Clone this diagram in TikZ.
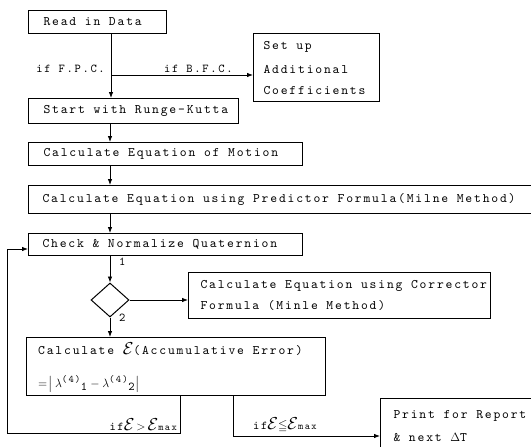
\documentclass[tikz,border=0pt]{standalone}
\usepackage{amsmath,amssymb}
\usepackage{fontspec}
\usetikzlibrary{arrows.meta,shapes.geometric}
\newfontfamily\typew{lmmono10-regular.otf}[LetterSpace=14]
\protected\def\bigsp{\spaceskip=8.6pt\relax}
\protected\def\smallsp{\spaceskip=8pt\relax}
\tikzset{
  every node/.style={font=\typew\fontsize{13}{15}\selectfont\bigsp},
  boxnode/.style={draw, line width=1.1pt, anchor=north west, inner xsep=0pt, inner ysep=0pt, align=left},
  conn/.style={line width=0.8pt, -{Latex[length=6pt,width=4.5pt]}},
  lbl/.style={inner sep=1pt, font=\typew\fontsize{12}{14}\selectfont\smallsp},
  txt/.style={inner sep=0pt, anchor=west},
}
\begin{document}
\begin{tikzpicture}[x=1pt,y=-1pt]
\useasboundingbox (0,0) rectangle (531,447);
\node[boxnode, minimum width=138pt, minimum height=23pt, text width=138pt] (read) at (28,10) {\bigsp\hspace*{15pt}Read in Data};
\node[boxnode, minimum width=126pt, minimum height=68pt, text width=126pt] (setup) at (253,33) {\bigsp\hspace*{10pt}Set up\\[9pt]\hspace*{10pt}Additional\\[6pt]\hspace*{10pt}Coefficients};
\node[boxnode, minimum width=210pt, minimum height=25pt, text width=210pt] (rk) at (28,98) {\bigsp\hspace*{15pt}Start with Runge-Kutta};
\node[boxnode, minimum width=274pt, minimum height=23pt, text width=274pt] (motion) at (28,142) {\bigsp\hspace*{15pt}Calculate Equation of Motion};
\node[boxnode, minimum width=540pt, minimum height=28pt, text width=540pt] (pred) at (28,185) {\bigsp\hspace*{14pt}Calculate Equation using Predictor Formula(Milne Method)};
\node[boxnode, minimum width=274pt, minimum height=22pt, text width=274pt] (check) at (28,233) {\bigsp\hspace*{14pt}Check \& Normalize Quaternion};
\node[draw, line width=1pt, diamond, minimum width=38pt, minimum height=34pt, inner sep=0pt] (dia) at (110,300) {};
\node[boxnode, minimum width=302pt, minimum height=46pt, text width=302pt] (corr) at (188,272) {\bigsp\hspace*{12pt}Calculate Equation using Corrector\\[6pt]\hspace*{12pt}Formula (Minle Method)};
\node[boxnode, minimum width=299pt, minimum height=58pt] (calce) at (26,337) {};
\node[txt] (calc1) at (38,349) {Calculate {\LARGE$\mathcal{E}$}(Accumulative Error)};
\node[txt] (calc2) at (38,384) {$=\!\bigl|\,\lambda^{\text{\typew\fontsize{10}{10}\selectfont(4)}}{}_{\text{\typew\fontsize{12}{12}\selectfont 1}} - \lambda^{\text{\typew\fontsize{10}{10}\selectfont(4)}}{}_{\text{\typew\fontsize{12}{12}\selectfont 2}}\bigr|$};
\node[boxnode, minimum width=170pt, minimum height=56pt, text width=170pt] (print) at (380,398) {\bigsp\hspace*{13pt}Print for Report\\[8pt]\hspace*{13pt}\& next $\Delta$T};
% coordinates
\coordinate (br) at (111,75);
\coordinate (l1) at (180,433);
\coordinate (l2) at (7,433);
\coordinate (l3) at (7,249);
\coordinate (r1) at (233,436);
% connectors
\draw[conn] (read.south -| br) -- (rk.north -| br);
\draw[conn] (br) -- (br -| setup.west);
\draw[conn] (rk.south -| dia) -- (motion.north -| dia);
\draw[conn] (motion.south -| dia) -- (pred.north -| dia);
\draw[conn] (pred.south -| dia) -- (check.north -| dia);
\draw[conn] (check.south -| dia) -- (dia.north);
\draw[conn] (dia.east) -- (dia.east -| corr.west);
\draw[conn] (dia.south) -- (dia.south |- calce.north);
\draw[conn] (calce.south -| l1) -- (l1) -- (l2) -- (l3) -- (l3 -| check.west);
\draw[conn] (calce.south -| r1) -- (r1) -- (r1 -| print.west);
% labels
\node[lbl, anchor=south east] (fpc) at (106,74) {if F.P.C.};
\node[lbl, anchor=south west] (bfc) at (163,74) {if B.F.C.};
\node[lbl, anchor=west] (one) at (118,262) {1};
\node[lbl, anchor=west] (two) at (118,318) {2};
\node[lbl, anchor=south east] (gt) at (178,432) {if{\LARGE$\mathcal{E}$}$\,>\,${\LARGE$\mathcal{E}$}\fontsize{10}{10}\selectfont max};
\node[lbl, anchor=south west] (le) at (252,434) {if{\LARGE$\mathcal{E}$}$\leqq${\LARGE$\mathcal{E}$}\fontsize{10}{10}\selectfont max};
\end{tikzpicture}
\end{document}
